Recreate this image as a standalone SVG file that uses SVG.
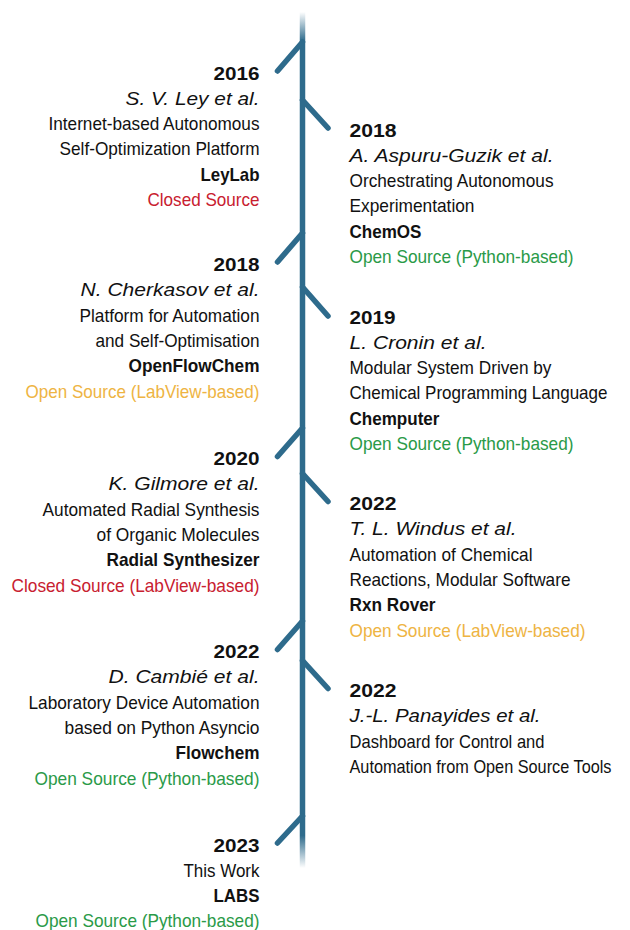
<svg xmlns="http://www.w3.org/2000/svg" width="630" height="930" viewBox="0 0 630 930">
  <defs>
    <linearGradient id="spineFade" gradientUnits="userSpaceOnUse" x1="0" y1="12" x2="0" y2="868">
      <stop offset="0" stop-color="#2e6b8c" stop-opacity="0"/>
      <stop offset="0.034" stop-color="#2e6b8c" stop-opacity="1"/>
      <stop offset="0.962" stop-color="#2e6b8c" stop-opacity="1"/>
      <stop offset="1" stop-color="#2e6b8c" stop-opacity="0"/>
    </linearGradient>
  </defs>
  <style>
    text { font-family: "Liberation Sans", Arial, sans-serif; font-size: 18.6px; fill: #111; }
    .l text { text-anchor: end; }
    .r text { text-anchor: start; }
    .yr { font-weight: bold; font-size: 18.8px; }
    .au { font-style: italic; font-size: 19.2px; }
    .nm { font-weight: bold; }
    .red { fill: #c8202f; }
    .grn { fill: #2a9a48; }
    .org { fill: #eeb443; }
    .spine { stroke: url(#spineFade); stroke-width: 5.5; fill: none; }
    .tick { stroke: #2e6b8c; stroke-width: 5.5; stroke-linecap: round; fill: none; }
  </style>

  <rect width="630" height="930" fill="#ffffff"/>

  <!-- timeline spine and branch ticks -->
  <g id="connectors">
    <line class="spine" x1="302.5" y1="12" x2="302.5" y2="868"/>
    <line class="tick" x1="302.5" y1="42" x2="277.5" y2="71"/>
    <line class="tick" x1="302.5" y1="100" x2="328" y2="128"/>
    <line class="tick" x1="302.5" y1="233" x2="277.5" y2="262"/>
    <line class="tick" x1="302.5" y1="287" x2="328" y2="316"/>
    <line class="tick" x1="302.5" y1="428" x2="277.5" y2="456.5"/>
    <line class="tick" x1="302.5" y1="473.5" x2="328" y2="501.5"/>
    <line class="tick" x1="302.5" y1="621" x2="277.5" y2="649.5"/>
    <line class="tick" x1="302.5" y1="660.5" x2="328" y2="688.5"/>
    <line class="tick" x1="302.5" y1="816" x2="277.5" y2="843"/>
  </g>

  <!-- 2016 LeyLab -->
  <g id="leylab" class="l">
    <text class="yr" x="259.5" y="79.5" textLength="46" lengthAdjust="spacingAndGlyphs">2016</text>
    <text class="au" x="259.5" y="104.8" textLength="134" lengthAdjust="spacingAndGlyphs">S. V. Ley et al.</text>
    <text x="259.5" y="130.1" textLength="211" lengthAdjust="spacingAndGlyphs">Internet-based Autonomous</text>
    <text x="259.5" y="155.4" textLength="200" lengthAdjust="spacingAndGlyphs">Self-Optimization Platform</text>
    <text class="nm" x="259.5" y="180.7" textLength="59" lengthAdjust="spacingAndGlyphs">LeyLab</text>
    <text class="red" x="259.5" y="206" textLength="112" lengthAdjust="spacingAndGlyphs">Closed Source</text>
  </g>

  <!-- 2018 ChemOS -->
  <g id="chemos" class="r">
    <text class="yr" x="349.5" y="136.5" textLength="47" lengthAdjust="spacingAndGlyphs">2018</text>
    <text class="au" x="349.5" y="161.8" textLength="204" lengthAdjust="spacingAndGlyphs">A. Aspuru-Guzik et al.</text>
    <text x="349.5" y="187.1" textLength="204" lengthAdjust="spacingAndGlyphs">Orchestrating Autonomous</text>
    <text x="349.5" y="212.4" textLength="125" lengthAdjust="spacingAndGlyphs">Experimentation</text>
    <text class="nm" x="349.5" y="237.7" textLength="72" lengthAdjust="spacingAndGlyphs">ChemOS</text>
    <text class="grn" x="349.5" y="263" textLength="224" lengthAdjust="spacingAndGlyphs">Open Source (Python-based)</text>
  </g>

  <!-- 2018 OpenFlowChem -->
  <g id="openflowchem" class="l">
    <text class="yr" x="259.5" y="271" textLength="46" lengthAdjust="spacingAndGlyphs">2018</text>
    <text class="au" x="259.5" y="296.3" textLength="179" lengthAdjust="spacingAndGlyphs">N. Cherkasov et al.</text>
    <text x="259.5" y="321.6" textLength="180" lengthAdjust="spacingAndGlyphs">Platform for Automation</text>
    <text x="259.5" y="346.9" textLength="164" lengthAdjust="spacingAndGlyphs">and Self-Optimisation</text>
    <text class="nm" x="259.5" y="372.2" textLength="131" lengthAdjust="spacingAndGlyphs">OpenFlowChem</text>
    <text class="org" x="259.5" y="397.5" textLength="234" lengthAdjust="spacingAndGlyphs">Open Source (LabView-based)</text>
  </g>

  <!-- 2019 Chemputer -->
  <g id="chemputer" class="r">
    <text class="yr" x="349.5" y="323.5" textLength="46" lengthAdjust="spacingAndGlyphs">2019</text>
    <text class="au" x="349.5" y="348.8" textLength="137" lengthAdjust="spacingAndGlyphs">L. Cronin et al.</text>
    <text x="349.5" y="374.1" textLength="202" lengthAdjust="spacingAndGlyphs">Modular System Driven by</text>
    <text x="349.5" y="399.4" textLength="258" lengthAdjust="spacingAndGlyphs">Chemical Programming Language</text>
    <text class="nm" x="349.5" y="424.7" textLength="90" lengthAdjust="spacingAndGlyphs">Chemputer</text>
    <text class="grn" x="349.5" y="450" textLength="224" lengthAdjust="spacingAndGlyphs">Open Source (Python-based)</text>
  </g>

  <!-- 2020 Radial Synthesizer -->
  <g id="radial-synthesizer" class="l">
    <text class="yr" x="259.5" y="465" textLength="46" lengthAdjust="spacingAndGlyphs">2020</text>
    <text class="au" x="259.5" y="490.3" textLength="151" lengthAdjust="spacingAndGlyphs">K. Gilmore et al.</text>
    <text x="259.5" y="515.6" textLength="217" lengthAdjust="spacingAndGlyphs">Automated Radial Synthesis</text>
    <text x="259.5" y="540.9" textLength="163" lengthAdjust="spacingAndGlyphs">of Organic Molecules</text>
    <text class="nm" x="259.5" y="566.2" textLength="153" lengthAdjust="spacingAndGlyphs">Radial Synthesizer</text>
    <text class="red" x="259.5" y="591.5" textLength="248" lengthAdjust="spacingAndGlyphs">Closed Source (LabView-based)</text>
  </g>

  <!-- 2022 Rxn Rover -->
  <g id="rxn-rover" class="r">
    <text class="yr" x="349.5" y="510" textLength="47" lengthAdjust="spacingAndGlyphs">2022</text>
    <text class="au" x="349.5" y="535.3" textLength="167" lengthAdjust="spacingAndGlyphs">T. L. Windus et al.</text>
    <text x="349.5" y="560.6" textLength="183" lengthAdjust="spacingAndGlyphs">Automation of Chemical</text>
    <text x="349.5" y="585.9" textLength="221" lengthAdjust="spacingAndGlyphs">Reactions, Modular Software</text>
    <text class="nm" x="349.5" y="611.2" textLength="86" lengthAdjust="spacingAndGlyphs">Rxn Rover</text>
    <text class="org" x="349.5" y="636.5" textLength="236" lengthAdjust="spacingAndGlyphs">Open Source (LabView-based)</text>
  </g>

  <!-- 2022 Flowchem -->
  <g id="flowchem" class="l">
    <text class="yr" x="259.5" y="658" textLength="46" lengthAdjust="spacingAndGlyphs">2022</text>
    <text class="au" x="259.5" y="683.3" textLength="151" lengthAdjust="spacingAndGlyphs">D. Cambié et al.</text>
    <text x="259.5" y="708.6" textLength="231" lengthAdjust="spacingAndGlyphs">Laboratory Device Automation</text>
    <text x="259.5" y="733.9" textLength="195" lengthAdjust="spacingAndGlyphs">based on Python Asyncio</text>
    <text class="nm" x="259.5" y="759.2" textLength="84" lengthAdjust="spacingAndGlyphs">Flowchem</text>
    <text class="grn" x="259.5" y="784.5" textLength="225" lengthAdjust="spacingAndGlyphs">Open Source (Python-based)</text>
  </g>

  <!-- 2022 Panayides dashboard -->
  <g id="dashboard" class="r">
    <text class="yr" x="349.5" y="697" textLength="47" lengthAdjust="spacingAndGlyphs">2022</text>
    <text class="au" x="349.5" y="722.3" textLength="191" lengthAdjust="spacingAndGlyphs">J.-L. Panayides et al.</text>
    <text x="349.5" y="747.6" textLength="195" lengthAdjust="spacingAndGlyphs">Dashboard for Control and</text>
    <text x="349.5" y="772.9" textLength="262" lengthAdjust="spacingAndGlyphs">Automation from Open Source Tools</text>
  </g>

  <!-- 2023 LABS -->
  <g id="labs" class="l">
    <text class="yr" x="259.5" y="851.5" textLength="46" lengthAdjust="spacingAndGlyphs">2023</text>
    <text x="259.5" y="876.8" textLength="76" lengthAdjust="spacingAndGlyphs">This Work</text>
    <text class="nm" x="259.5" y="902.1" textLength="46" lengthAdjust="spacingAndGlyphs">LABS</text>
    <text class="grn" x="259.5" y="927.4" textLength="224" lengthAdjust="spacingAndGlyphs">Open Source (Python-based)</text>
  </g>
</svg>
